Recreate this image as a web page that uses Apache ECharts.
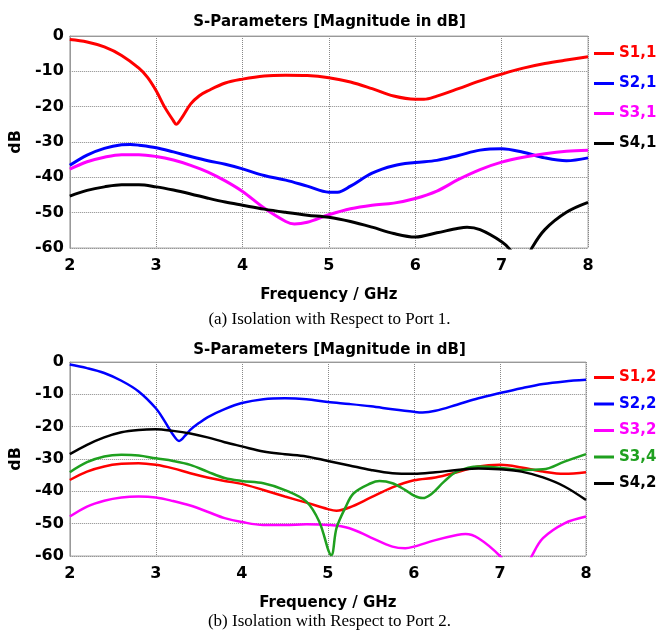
<!DOCTYPE html>
<html>
<head>
<meta charset="utf-8">
<script src="https://cdn.jsdelivr.net/npm/echarts@6/dist/echarts.min.js"></script>
<style>
html, body { margin: 0; padding: 0; background: #fff; }
#main { width: 659px; height: 633px; }
</style>
</head>
<body>
<div id="main"></div>
<script>
// (a) port 1
var s11F = [2, 2.2, 2.4, 2.6, 2.8, 2.9, 3.0, 3.1, 3.2, 3.23, 3.3, 3.4, 3.5, 3.6, 3.8, 4.0, 4.25, 4.5, 4.75, 5, 5.25, 5.5, 5.75, 6, 6.1, 6.25, 6.5, 6.75, 7, 7.25, 7.5, 7.75, 8];
var s11Db = [-1, -1.7, -3.1, -5.5, -9.1, -11.7, -15.5, -20.2, -24, -25, -23, -19.2, -16.9, -15.5, -13.3, -12.2, -11.3, -11.1, -11.2, -11.8, -13.0, -14.9, -17.0, -17.9, -17.9, -17.0, -14.9, -12.7, -10.8, -9.1, -7.8, -6.8, -5.9];
var s21F = [2, 2.2, 2.4, 2.6, 2.7, 2.8, 3.0, 3.2, 3.4, 3.6, 3.8, 4.0, 4.25, 4.5, 4.75, 5, 5.1, 5.25, 5.5, 5.75, 6, 6.25, 6.5, 6.75, 7, 7.25, 7.5, 7.75, 8];
var s21Db = [-36.6, -33.7, -31.8, -30.8, -30.7, -30.9, -31.6, -32.8, -34.1, -35.3, -36.3, -37.6, -39.5, -40.8, -42.5, -44.2, -44.2, -42.5, -38.8, -36.7, -35.8, -35.2, -33.8, -32.3, -31.9, -32.9, -34.5, -35.3, -34.5];
var s31F = [2, 2.2, 2.4, 2.6, 2.8, 3.0, 3.2, 3.4, 3.6, 3.8, 4.0, 4.25, 4.5, 4.6, 4.75, 5, 5.25, 5.5, 5.75, 6, 6.25, 6.5, 6.75, 7, 7.25, 7.5, 7.75, 8];
var s31Db = [-37.7, -35.6, -34.3, -33.6, -33.6, -34.1, -35.1, -36.6, -38.5, -41.0, -44.0, -48.7, -52.5, -53.2, -52.7, -50.6, -48.9, -47.9, -47.3, -46.0, -43.9, -40.6, -37.8, -35.7, -34.3, -33.3, -32.6, -32.3];
var s41F = [2, 2.2, 2.4, 2.6, 2.8, 3.0, 3.2, 3.4, 3.6, 3.8, 4.0, 4.25, 4.5, 4.75, 5, 5.25, 5.5, 5.75, 6, 6.25, 6.5, 6.6, 6.75, 7, 7.1, 7.2, 7.25, 7.35, 7.5, 7.75, 8];
var s41Db = [-45.3, -43.7, -42.7, -42.1, -42.1, -42.7, -43.6, -44.7, -45.9, -47.0, -47.9, -49.0, -49.9, -50.7, -51.3, -52.5, -54.1, -55.9, -56.9, -55.7, -54.4, -54.1, -54.8, -58.2, -60.5, -65, -65, -60, -54.8, -49.9, -47.1];

// (b) port 2
var s12F = [2, 2.2, 2.4, 2.6, 2.8, 3.0, 3.2, 3.4, 3.6, 3.8, 4.0, 4.25, 4.5, 4.75, 5, 5.1, 5.25, 5.5, 5.75, 6, 6.25, 6.5, 6.75, 7, 7.25, 7.5, 7.75, 8];
var s12Db = [-36.5, -33.9, -32.3, -31.5, -31.3, -31.8, -32.9, -34.4, -35.7, -36.8, -37.7, -39.6, -41.6, -43.5, -45.5, -46.0, -45.0, -41.9, -38.8, -36.6, -35.7, -34.1, -32.3, -31.8, -32.6, -33.9, -34.6, -34.1];
var s22F = [2, 2.2, 2.4, 2.6, 2.8, 3.0, 3.1, 3.2, 3.27, 3.35, 3.4, 3.5, 3.6, 3.8, 4.0, 4.25, 4.5, 4.75, 5, 5.25, 5.5, 5.75, 6, 6.1, 6.25, 6.5, 6.75, 7, 7.25, 7.5, 7.75, 8];
var s22Db = [-0.8, -1.9, -3.4, -5.8, -9.1, -14.3, -18.2, -22.5, -24.4, -22.5, -21.0, -18.9, -17.1, -14.6, -12.7, -11.5, -11.2, -11.5, -12.4, -13.0, -13.7, -14.6, -15.4, -15.6, -15.1, -13.2, -11.2, -9.6, -8.1, -6.8, -6.0, -5.5];
var s32F = [2, 2.2, 2.4, 2.6, 2.8, 3.0, 3.2, 3.4, 3.6, 3.8, 4.0, 4.25, 4.5, 4.75, 5, 5.25, 5.5, 5.75, 5.9, 6, 6.25, 6.5, 6.6, 6.75, 7, 7.1, 7.2, 7.3, 7.37, 7.5, 7.75, 8];
var s32Db = [-47.8, -44.7, -42.9, -41.9, -41.6, -41.9, -43.0, -44.4, -46.3, -48.3, -49.5, -50.4, -50.4, -50.2, -50.4, -51.4, -54.3, -57.1, -57.6, -57.1, -55.1, -53.5, -53.2, -54.5, -60, -64, -66, -64, -60, -54.5, -49.9, -47.8];
var s34F = [2, 2.2, 2.4, 2.6, 2.8, 3.0, 3.2, 3.4, 3.6, 3.8, 4.0, 4.25, 4.5, 4.75, 4.9, 5.04, 5.1, 5.2, 5.3, 5.5, 5.6, 5.75, 5.9, 6.0, 6.1, 6.2, 6.35, 6.5, 6.75, 7, 7.25, 7.5, 7.75, 8];
var s34Db = [-34.1, -31.0, -29.2, -28.7, -28.9, -29.8, -30.6, -31.8, -33.9, -35.9, -36.8, -37.5, -39.6, -43.2, -49.4, -59.7, -51.4, -45.2, -40.6, -37.5, -36.8, -37.5, -39.6, -41.3, -42.1, -40.9, -37.0, -33.9, -32.3, -32.7, -33.4, -33.2, -30.8, -28.5];
var s42F = [2, 2.2, 2.4, 2.6, 2.8, 3.0, 3.2, 3.4, 3.6, 3.8, 4.0, 4.25, 4.5, 4.75, 5, 5.25, 5.5, 5.75, 6, 6.25, 6.5, 6.75, 7, 7.25, 7.5, 7.75, 8];
var s42Db = [-28.5, -25.6, -23.3, -21.7, -21.0, -20.8, -21.3, -22.1, -23.3, -24.8, -26.1, -27.7, -28.5, -29.2, -30.6, -32.0, -33.4, -34.4, -34.6, -34.1, -33.4, -32.9, -33.2, -33.9, -35.7, -38.5, -42.7];

var xTicks = [2, 3, 4, 5, 6, 7, 8];
var font = 'DejaVu Sans';

function pairs(f, d) {
    return f.map(function (v, i) { return [v, d[i]]; });
}

function line(name, f, d, color, idx, width) {
    return {
        name: name,
        type: 'line',
        xAxisIndex: idx,
        yAxisIndex: idx,
        data: pairs(f, d),
        smooth: 0.35,
        showSymbol: false,
        clip: true,
        color: color,
        lineStyle: { color: color, width: width }
    };
}

function xAx(idx) {
    return {
        gridIndex: idx,
        type: 'value',
        min: xTicks[0],
        max: xTicks[xTicks.length - 1],
        interval: 1,
        name: 'Frequency / GHz',
        nameLocation: 'middle',
        nameGap: 40,
        nameTextStyle: { color: '#000', fontWeight: 'bold', fontSize: 15, fontFamily: font },
        axisLine: { lineStyle: { color: '#999' } },
        axisTick: { show: false },
        axisLabel: { color: '#000', fontWeight: 'bold', fontSize: 16, fontFamily: font, margin: 10 },
        splitLine: { lineStyle: { type: 'dotted', color: '#888' } }
    };
}

function yAx(idx) {
    return {
        gridIndex: idx,
        type: 'value',
        min: -60,
        max: 0,
        interval: 10,
        name: 'dB',
        nameLocation: 'middle',
        nameGap: 41,
        nameTextStyle: { color: '#000', fontWeight: 'bold', fontSize: 16, fontFamily: font },
        axisLine: { show: true, lineStyle: { color: '#999' } },
        axisTick: { show: false },
        axisLabel: { color: '#000', fontWeight: 'bold', fontSize: 16, fontFamily: font, margin: 6 },
        splitLine: { lineStyle: { type: 'dotted', color: '#888' } }
    };
}

function legendItem(name, color) {
    return { name: name, textStyle: { color: color } };
}

var red = '#ff0000', blue = '#0000ff', magenta = '#ff00ff', black = '#000000', green = '#1fa01f';

var chart = echarts.init(document.getElementById('main'));
var option = {
    animation: false,
    backgroundColor: '#fff',
    title: [
        { text: 'S-Parameters [Magnitude in dB]', left: 'center', top: 10,
          textStyle: { fontSize: 15, fontWeight: 'bold', fontFamily: font, color: '#000' } },
        { text: 'S-Parameters [Magnitude in dB]', left: 'center', top: 338,
          textStyle: { fontSize: 15, fontWeight: 'bold', fontFamily: font, color: '#000' } }
    ],
    grid: [
        { left: 67, top: 36, width: 521, height: 212, show: true, borderColor: '#aaa', borderWidth: 1 },
        { left: 68, top: 362, width: 518, height: 194, show: true, borderColor: '#aaa', borderWidth: 1 }
    ],
    xAxis: [xAx(0), xAx(1)],
    yAxis: [yAx(0), yAx(1)],
    legend: [
        { orient: 'vertical', left: 594, top: 46, padding: 0, itemGap: 15, itemWidth: 20, itemHeight: 3, icon: 'rect',
          textStyle: { fontSize: 15, fontWeight: 'bold', fontFamily: font },
          data: [legendItem('S1,1', red), legendItem('S2,1', blue), legendItem('S3,1', magenta), legendItem('S4,1', black)] },
        { orient: 'vertical', left: 594, top: 370, padding: 0, itemGap: 11.5, itemWidth: 20, itemHeight: 3, icon: 'rect',
          textStyle: { fontSize: 15, fontWeight: 'bold', fontFamily: font },
          data: [legendItem('S1,2', red), legendItem('S2,2', blue), legendItem('S3,2', magenta), legendItem('S3,4', green), legendItem('S4,2', black)] }
    ],
    graphic: [
        { type: 'text', left: 'center', top: 311,
          style: { text: '(a) Isolation with Respect to Port 1.', fontSize: 17, fontFamily: 'Liberation Serif', fill: '#000' } },
        { type: 'text', left: 'center', top: 613,
          style: { text: '(b) Isolation with Respect to Port 2.', fontSize: 17, fontFamily: 'Liberation Serif', fill: '#000' } }
    ],
    series: [
        line('S1,1', s11F, s11Db, red, 0, 3),
        line('S2,1', s21F, s21Db, blue, 0, 3),
        line('S3,1', s31F, s31Db, magenta, 0, 3),
        line('S4,1', s41F, s41Db, black, 0, 3),
        line('S1,2', s12F, s12Db, red, 1, 2.5),
        line('S2,2', s22F, s22Db, blue, 1, 2.5),
        line('S3,2', s32F, s32Db, magenta, 1, 2.5),
        line('S3,4', s34F, s34Db, green, 1, 2.5),
        line('S4,2', s42F, s42Db, black, 1, 2.5)
    ]
};
chart.setOption(option);
</script>
</body>
</html>
